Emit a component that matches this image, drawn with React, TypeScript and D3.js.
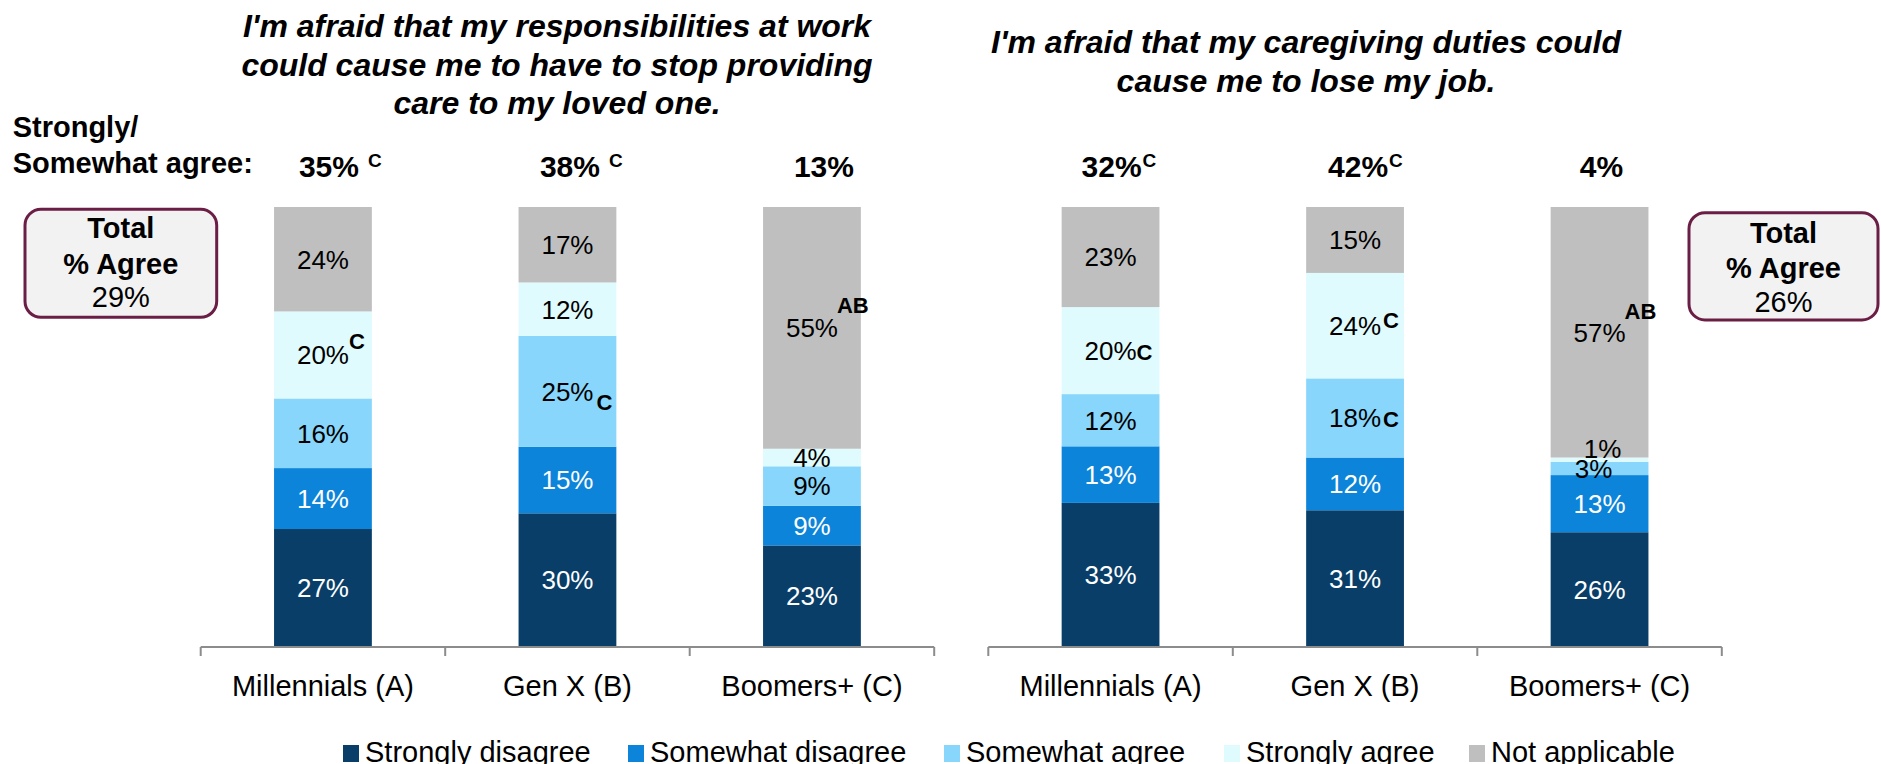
import React from 'react';
import * as d3 from 'd3';

// ---------- DATA ----------
const categories = ['Millennials (A)', 'Gen X (B)', 'Boomers+ (C)'];
const seriesKeys = ['sd', 'swd', 'swa', 'sa', 'na'];
const seriesNames = ['Strongly disagree', 'Somewhat disagree', 'Somewhat agree', 'Strongly agree', 'Not applicable'];
const seriesColors = ['#083e68', '#0b84d9', '#88d6fb', '#e0fbfd', '#bfbfbf'];
const labelColors = ['#ffffff', '#ffffff', '#000000', '#000000', '#000000'];

// Panel 1: work responsibilities -> stop providing care
const workTitle = [
  "I'm afraid that my responsibilities at work",
  'could cause me to have to stop providing',
  'care to my loved one.',
];
const workStronglyDisagree = [27, 30, 23];
const workSomewhatDisagree = [14, 15, 9];
const workSomewhatAgree = [16, 25, 9];
const workStronglyAgree = [20, 12, 4];
const workNotApplicable = [24, 17, 55];
const workAgreeTotals = ['35%', '38%', '13%'];
const workAgreeSig = ['C', 'C', ''];
const workTotalAgree = '29%';
const workSigStronglyAgree = ['C', '', ''];
const workSigSomewhatAgree = ['', 'C', ''];
const workSigNotApplicable = ['', '', 'AB'];

// Panel 2: caregiving duties -> lose job
const jobTitle = ["I'm afraid that my caregiving duties could", 'cause me to lose my job.'];
const jobStronglyDisagree = [33, 31, 26];
const jobSomewhatDisagree = [13, 12, 13];
const jobSomewhatAgree = [12, 18, 3];
const jobStronglyAgree = [20, 24, 1];
const jobNotApplicable = [23, 15, 57];
const jobAgreeTotals = ['32%', '42%', '4%'];
const jobAgreeSig = ['C', 'C', ''];
const jobTotalAgree = '26%';
const jobSigStronglyAgree = ['C', 'C', ''];
const jobSigSomewhatAgree = ['', 'C', ''];
const jobSigNotApplicable = ['', '', 'AB'];

// ---------- LAYOUT ----------
const W = 1881;
const H = 764;
const FONT = "'Liberation Sans', Arial, Helvetica, sans-serif";
const yTop = 207;
const yBase = 646.5;

type Panel = {
  id: string;
  range: [number, number];
  values: number[][];
  sig: { [k: string]: string[] };
  sigStyle: { [k: string]: { dx: number; dy: number; inline?: boolean } };
  totals: string[];
  totalsSig: string[];
  totalsOffset: number[];
  supGap: number;
  labelNudge: { [k: string]: [number, number] };
};

const panels: Panel[] = [
  {
    id: 'work',
    range: [200.7, 934.2],
    values: [workStronglyDisagree, workSomewhatDisagree, workSomewhatAgree, workStronglyAgree, workNotApplicable],
    sig: { sa: workSigStronglyAgree, swa: workSigSomewhatAgree, na: workSigNotApplicable },
    sigStyle: {
      'sa-0': { dx: 26, dy: -15 },
      'swa-1': { dx: 29, dy: 9.5 },
      'na-2': { dx: 25, dy: -24 },
    },
    totals: workAgreeTotals,
    totalsSig: workAgreeSig,
    totalsOffset: [6, 2.5, 12],
    supGap: 9,
    labelNudge: {},
  },
  {
    id: 'job',
    range: [988.3, 1721.8],
    values: [jobStronglyDisagree, jobSomewhatDisagree, jobSomewhatAgree, jobStronglyAgree, jobNotApplicable],
    sig: { sa: jobSigStronglyAgree, swa: jobSigSomewhatAgree, na: jobSigNotApplicable },
    sigStyle: {
      'sa-0': { dx: 26, dy: 0 },
      'sa-1': { dx: 28, dy: -7 },
      'swa-1': { dx: 28, dy: 0 },
      'na-2': { dx: 25, dy: -23 },
    },
    totals: jobAgreeTotals,
    totalsSig: jobAgreeSig,
    totalsOffset: [1, 3, 2],
    supGap: 1,
    labelNudge: { 'sa-2': [3, -11], 'swa-2': [-6, 0] },
  },
];

function boldPctWidth(s: string, fs: number) {
  let w = 0;
  for (const ch of s) w += ch === '%' ? 0.889 : 0.556;
  return w * fs;
}

function PanelChart({ p }: { p: Panel }) {
  const x = d3.scaleBand<string>().domain(categories).range(p.range).paddingInner(0.6).paddingOuter(0.3);
  const y = d3.scaleLinear().domain([0, 1]).range([yBase, yTop]);
  const rows = categories.map((c, i) => {
    const r: any = { cat: c };
    seriesKeys.forEach((k, s) => (r[k] = p.values[s][i]));
    return r;
  });
  const stacked = d3.stack<any>().keys(seriesKeys).offset(d3.stackOffsetExpand)(rows);
  const step = x.step();
  const ticks = d3.range(categories.length + 1).map((i) => p.range[0] + i * step);
  const bw = x.bandwidth();

  return (
    <g>
      {stacked.map((layer, s) => (
        <g key={layer.key}>
          {layer.map((d, i) => {
            const cat = categories[i];
            const x0 = x(cat)!;
            const y0 = y(d[1]);
            const y1 = y(d[0]);
            return (
              <rect key={cat} x={x0} y={y0} width={bw} height={Math.max(0, y1 - y0)} fill={seriesColors[s]} />
            );
          })}
        </g>
      ))}
      {stacked.map((layer, s) => (
        <g key={'l' + layer.key}>
          {layer.map((d, i) => {
            const cat = categories[i];
            const cx = x(cat)! + bw / 2;
            const cy = (y(d[0]) + y(d[1])) / 2;
            const key = `${layer.key}-${i}`;
            const nudge = p.labelNudge[key] || [0, 0];
            const sigArr = p.sig[layer.key as string];
            const sig = sigArr ? sigArr[i] : '';
            const st = p.sigStyle[key];
            const base = cy + 9.4;
            return (
              <g key={cat}>
                <text
                  x={cx + nudge[0]}
                  y={base + nudge[1]}
                  textAnchor="middle"
                  fontSize={26}
                  fontFamily={FONT}
                  fill={labelColors[s]}
                >
                  {p.values[s][i]}%
                </text>
                {sig && st ? (
                  <text
                    x={cx + st.dx}
                    y={base + st.dy}
                    fontSize={22}
                    fontWeight="bold"
                    fontFamily={FONT}
                    fill="#000"
                  >
                    {sig}
                  </text>
                ) : null}
              </g>
            );
          })}
        </g>
      ))}
      {/* axis */}
      <line x1={p.range[0]} x2={p.range[1]} y1={647} y2={647} stroke="#8c8c8c" strokeWidth={2} />
      {ticks.map((t, i) => (
        <line key={i} x1={t} x2={t} y1={647} y2={656} stroke="#8c8c8c" strokeWidth={2} />
      ))}
      {categories.map((c) => (
        <text key={c} x={x(c)! + bw / 2} y={696} textAnchor="middle" fontSize={29} fontFamily={FONT} fill="#000">
          {c}
        </text>
      ))}
      {/* Strongly/Somewhat agree totals */}
      {categories.map((c, i) => {
        const cx = x(c)! + bw / 2 + p.totalsOffset[i];
        const w = boldPctWidth(p.totals[i], 30);
        return (
          <g key={'t' + c}>
            <text x={cx} y={177} textAnchor="middle" fontSize={30} fontWeight="bold" fontFamily={FONT} fill="#000">
              {p.totals[i]}
            </text>
            {p.totalsSig[i] ? (
              <text x={cx + w / 2 + p.supGap} y={167} fontSize={19} fontWeight="bold" fontFamily={FONT} fill="#000">
                {p.totalsSig[i]}
              </text>
            ) : null}
          </g>
        );
      })}
    </g>
  );
}

function TotalBox({ x, y, w, h, value, textY }: { x: number; y: number; w: number; h: number; value: string; textY: number }) {
  const cx = x + w / 2;
  return (
    <g>
      <rect x={x} y={y} width={w} height={h} rx={16} ry={16} fill="#f2f2f2" stroke="#6b1e45" strokeWidth={3} />
      <text x={cx} y={textY} textAnchor="middle" fontSize={29} fontWeight="bold" fontFamily={FONT} fill="#000">
        Total
      </text>
      <text x={cx} y={textY + 35.7} textAnchor="middle" fontSize={29} fontWeight="bold" fontFamily={FONT} fill="#000">
        % Agree
      </text>
      <text x={cx} y={textY + 69} textAnchor="middle" fontSize={29} fontFamily={FONT} fill="#000">
        {value}
      </text>
    </g>
  );
}

const legendX = [343, 628, 944, 1224, 1469];

export default function App() {
  return (
    <svg
      width={W}
      height={H}
      viewBox={`0 0 ${W} ${H}`}
      style={{ position: 'absolute', left: 0, top: 0, background: '#fff' }}
    >
      <rect x={0} y={0} width={W} height={H} fill="#fff" />
      {/* titles */}
      {workTitle.map((t, i) => (
        <text
          key={t}
          x={557}
          y={37 + i * 38.5}
          textAnchor="middle"
          fontSize={32}
          fontWeight="bold"
          fontStyle="italic"
          fontFamily={FONT}
          fill="#000"
        >
          {t}
        </text>
      ))}
      {jobTitle.map((t, i) => (
        <text
          key={t}
          x={1306}
          y={53 + i * 38.5}
          textAnchor="middle"
          fontSize={32}
          fontWeight="bold"
          fontStyle="italic"
          fontFamily={FONT}
          fill="#000"
        >
          {t}
        </text>
      ))}
      <text x={12.7} y={137} fontSize={29} fontWeight="bold" fontFamily={FONT} fill="#000">
        Strongly/
      </text>
      <text x={12.7} y={173} fontSize={29} fontWeight="bold" fontFamily={FONT} fill="#000">
        Somewhat agree:
      </text>
      {panels.map((p) => (
        <PanelChart key={p.id} p={p} />
      ))}
      <TotalBox x={25} y={209.3} w={191.7} h={108} value={workTotalAgree} textY={238.3} />
      <TotalBox x={1689} y={212.7} w={189} h={107.3} value={jobTotalAgree} textY={242.5} />
      {/* legend */}
      {seriesNames.map((n, i) => (
        <g key={n}>
          <rect x={legendX[i]} y={745} width={16} height={17} fill={seriesColors[i]} />
          <text x={legendX[i] + 22} y={762} fontSize={29} fontFamily={FONT} fill="#000">
            {n}
          </text>
        </g>
      ))}
    </svg>
  );
}
